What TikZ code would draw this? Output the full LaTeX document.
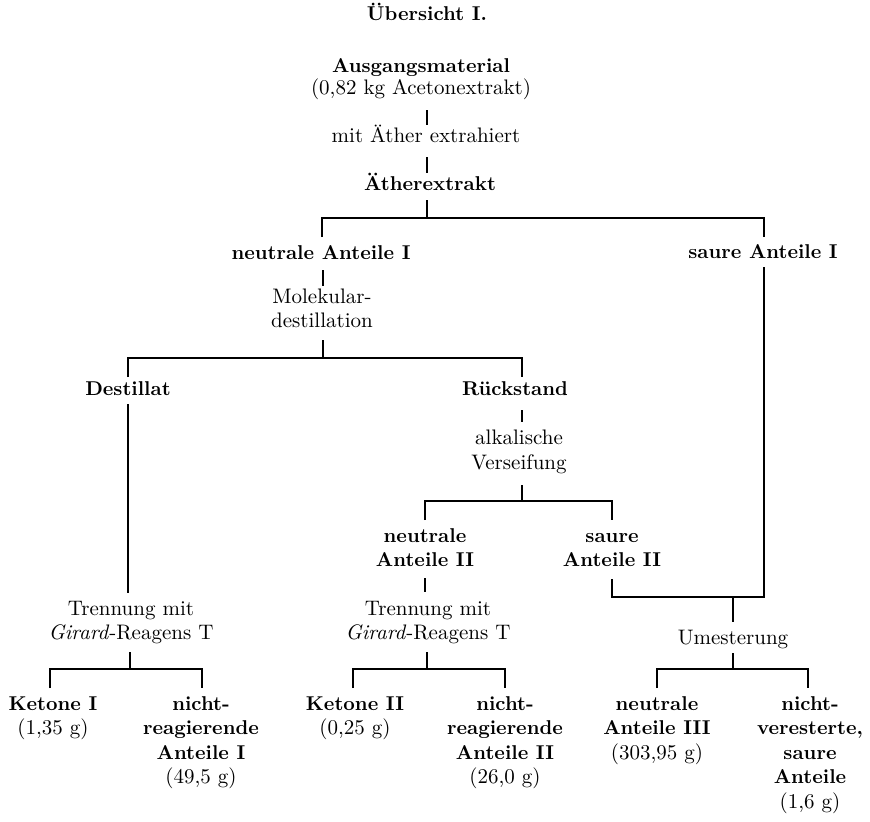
\documentclass[tikz,border=0pt]{standalone}
\newcommand\grm{\fontsize{10.5}{12.25}\selectfont\mdseries}
\begin{document}
\begin{tikzpicture}[x=0.5pt,y=-0.5pt,
  every node/.style={inner sep=0pt, align=center, anchor=base},
  plainnode/.style={font=\fontsize{10.5}{12.25}\selectfont},
  headnode/.style={font=\fontsize{10}{12.25}\selectfont\bfseries},
  conn/.style={line width=0.6pt}]
\useasboundingbox (0,0) rectangle (870,821);

% --- texts (each node sits on the baseline of its last line) ---
\node[headnode] (title) at (427,20) {Übersicht I.};
\node[headnode] (aus) at (421,94) {Ausgangsmaterial\\[-1.4pt]\grm(0,82 kg Acetonextrakt)};
\node[plainnode] (mit) at (426,142) {mit Äther extrahiert};
\node[headnode] (aeth) at (430,190) {Ätherextrakt};
\node[headnode] (neu1) at (321,259) {neutrale Anteile I};
\node[headnode] (sau1) at (763,258) {saure Anteile I};
\node[plainnode] (mol) at (322,327.5) {Molekular-\\destillation};
\node[headnode] (dest) at (128,395) {Destillat};
\node[headnode] (rueck) at (515,395) {Rückstand};
\node[plainnode] (alk) at (519,469) {alkalische\\Verseifung};
\node[headnode] (neu2) at (425,566.5) {neutrale\\Anteile II};
\node[headnode] (sau2) at (612,566.5) {saure\\Anteile II};
\node[plainnode] (tr1) at (131,639.5) {Trennung mit\\\textit{Girard}-Reagens T};
\node[plainnode] (tr2) at (428,639.5) {Trennung mit\\\textit{Girard}-Reagens T};
\node[plainnode] (um) at (733,644) {Umesterung};
\node[headnode] (ket1) at (53,734.5) {Ketone I\\\grm(1,35 g)};
\node[headnode] (nr1) at (201,783.5) {nicht-\\reagierende\\Anteile I\\\grm(49,5 g)};
\node[headnode] (ket2) at (355,734.5) {Ketone II\\\grm(0,25 g)};
\node[headnode] (nr2) at (505,783.5) {nicht-\\reagierende\\Anteile II\\\grm(26,0 g)};
\node[headnode] (neu3) at (657,759) {neutrale\\Anteile III\\\grm(303,95 g)};
\node[headnode] (nv) at (810,808) {nicht-\\veresterte,\\saure\\Anteile\\\grm(1,6 g)};

% --- line end points ---
\coordinate (a1) at (427,110); \coordinate (a2) at (427,125);
\coordinate (m1) at (427,157); \coordinate (m2) at (427,173);
\coordinate (e1) at (427,200); \coordinate (e2) at (427,218);
\coordinate (b1l) at (322,218); \coordinate (b1r) at (764,218);
\coordinate (b1ld) at (322,237); \coordinate (b1rd) at (764,237);
\coordinate (n1a) at (323,270); \coordinate (n1b) at (323,286);
\coordinate (mo1) at (323,340); \coordinate (mo2) at (323,358);
\coordinate (b2l) at (128,358); \coordinate (b2r) at (522,358);
\coordinate (b2ld) at (128,377); \coordinate (b2rd) at (522,377);
\coordinate (d1) at (128,404); \coordinate (d2) at (128,593);
\coordinate (s1) at (764,267); \coordinate (s2) at (764,597);
\coordinate (r1) at (522,410); \coordinate (r2) at (522,422);
\coordinate (v1) at (522,485); \coordinate (v2) at (522,501);
\coordinate (b3l) at (425,501); \coordinate (b3r) at (612,501);
\coordinate (b3ld) at (425,520); \coordinate (b3rd) at (612,520);
\coordinate (n2a) at (425,578); \coordinate (n2b) at (425,592);
\coordinate (sa2a) at (612,579); \coordinate (sa2b) at (612,597);
\coordinate (j1) at (733,597); \coordinate (j2) at (733,622);
\coordinate (u1) at (733,653); \coordinate (u2) at (733,669);
\coordinate (b6l) at (657,669); \coordinate (b6r) at (808,669);
\coordinate (b6ld) at (657,688); \coordinate (b6rd) at (808,688);
\coordinate (g1a) at (130,652); \coordinate (g1b) at (130,669);
\coordinate (b4l) at (50,669); \coordinate (b4r) at (202,669);
\coordinate (b4ld) at (50,688); \coordinate (b4rd) at (202,688);
\coordinate (g2a) at (427,652); \coordinate (g2b) at (427,669);
\coordinate (b5l) at (353,669); \coordinate (b5r) at (505,669);
\coordinate (b5ld) at (353,688); \coordinate (b5rd) at (505,688);

% --- connectors ---
\draw[conn] (a1) -- (a2);
\draw[conn] (m1) -- (m2);
\draw[conn] (e1) -- (e2);
\draw[conn] (b1ld) -- (b1l) -- (b1r) -- (b1rd);
\draw[conn] (n1a) -- (n1b);
\draw[conn] (mo1) -- (mo2);
\draw[conn] (b2ld) -- (b2l) -- (b2r) -- (b2rd);
\draw[conn] (d1) -- (d2);
\draw[conn] (r1) -- (r2);
\draw[conn] (v1) -- (v2);
\draw[conn] (b3ld) -- (b3l) -- (b3r) -- (b3rd);
\draw[conn] (n2a) -- (n2b);
\draw[conn] (sa2a) -- (sa2b) -- (s2) -- (s1);
\draw[conn] (j1) -- (j2);
\draw[conn] (u1) -- (u2);
\draw[conn] (b6ld) -- (b6l) -- (b6r) -- (b6rd);
\draw[conn] (g1a) -- (g1b);
\draw[conn] (b4ld) -- (b4l) -- (b4r) -- (b4rd);
\draw[conn] (g2a) -- (g2b);
\draw[conn] (b5ld) -- (b5l) -- (b5r) -- (b5rd);
\end{tikzpicture}
\end{document}
